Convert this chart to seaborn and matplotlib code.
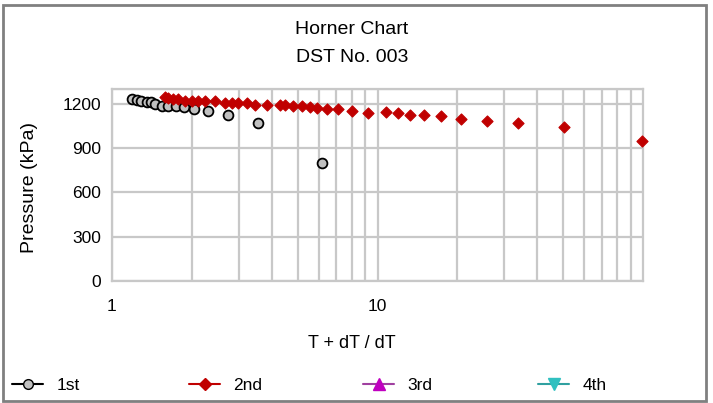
import numpy as np
import pandas as pd
import seaborn as sns
import matplotlib.pyplot as plt
from matplotlib.lines import Line2D
from matplotlib.patches import Rectangle
from matplotlib.ticker import FixedLocator, NullFormatter

# Horner plot data: (T + dT) / dT vs pressure, per flow period
first_x = [1.19, 1.24, 1.29, 1.35, 1.40, 1.45, 1.54, 1.63, 1.74, 1.87, 2.04, 2.29, 2.73, 3.56, 6.17]
first_p = [1234, 1227, 1220, 1214, 1209, 1200, 1186, 1182, 1182, 1175, 1164, 1153, 1127, 1073, 802]

second_x = [1.58, 1.63, 1.70, 1.78, 1.88, 2.00, 2.11, 2.24, 2.44, 2.67, 2.82, 2.99, 3.22, 3.46,
            3.83, 4.30, 4.48, 4.82, 5.18, 5.57, 5.90, 6.44, 7.12, 8.04, 9.23, 10.8, 11.9, 13.3,
            15.0, 17.3, 20.6, 25.8, 33.9, 50.6, 99.4]
second_p = [1245, 1239, 1234, 1232, 1222, 1220, 1220, 1220, 1218, 1205, 1205, 1205, 1205, 1193,
            1193, 1193, 1193, 1182, 1182, 1178, 1171, 1164, 1163, 1153, 1139, 1141, 1140, 1126,
            1125, 1114, 1096, 1085, 1069, 1042, 949]

series_names = ["1st", "2nd", "3rd", "4th"]
y_ticks = [0, 300, 600, 900, 1200]

sns.set_style("white")
plt.rcParams["font.family"] = ["Liberation Sans", "DejaVu Sans"]
plt.rcParams["text.color"] = "black"
plt.rcParams["xtick.color"] = "black"
plt.rcParams["ytick.color"] = "black"

W, H = 713, 403
fig = plt.figure(figsize=(W / 100, H / 100), dpi=100)
ax = fig.add_axes([112 / W, 1 - 281 / H, (643 - 112) / W, (281 - 89) / H])

grid_c = "#c8c8c8"
sns.scatterplot(x=first_x, y=first_p, ax=ax, marker="o", s=50, color="#c0c0c0",
                edgecolor="black", linewidth=1.3, zorder=3, clip_on=False)
sns.scatterplot(x=second_x, y=second_p, ax=ax, marker="D", s=32, color="#c00000",
                edgecolor="#c00000", linewidth=0.8, zorder=4, clip_on=False)

ax.set_xscale("log")
ax.set_xlim(1, 100)
ax.set_ylim(0, 1300)
ax.set_xticks([1, 10])
ax.set_xticklabels(["1", "10"])
ax.xaxis.set_minor_locator(FixedLocator([2, 3, 4, 5, 6, 7, 8, 9, 20, 30, 40, 50, 60, 70, 80, 90]))
ax.xaxis.set_minor_formatter(NullFormatter())
ax.set_yticks(y_ticks + [1300])
ax.set_yticklabels([str(v) for v in y_ticks] + [""])
ax.grid(True, which="both", color=grid_c, linewidth=1.6)
ax.set_axisbelow(True)
for sp in ax.spines.values():
    sp.set_color(grid_c)
    sp.set_linewidth(1.6)
ax.tick_params(axis="both", which="both", length=0, labelsize=12.5, labelcolor="black")
ax.tick_params(axis="x", pad=13)
ax.tick_params(axis="y", pad=8)
ax.set_xlabel("")
ax.set_ylabel("")

fig.text(352 / W, 1 - 30 / H, "Horner Chart", ha="center", va="center", fontsize=14)
fig.text(352 / W, 1 - 57 / H, "DST No. 003", ha="center", va="center", fontsize=14)
fig.text(29 / W, 1 - 187 / H, "Pressure (kPa)", rotation=90, ha="center", va="center", fontsize=14)
fig.text(352 / W, 1 - 343 / H, "T + dT / dT", ha="center", va="center", fontsize=13)

handles = [
    Line2D([], [], color="black", marker="o", markerfacecolor="#c0c0c0", markeredgecolor="black", markersize=7),
    Line2D([], [], color="#c00000", marker="D", markerfacecolor="#c00000", markeredgecolor="#c00000", markersize=6),
    Line2D([], [], color="#a040a0", marker="^", markerfacecolor="#c000c0", markeredgecolor="#c000c0", markersize=8),
    Line2D([], [], color="#30a0a0", marker="v", markerfacecolor="#30c0c0", markeredgecolor="#30c0c0", markersize=8),
]
legend_x = [12, 189, 363, 538]
for h, name, lx in zip(handles, series_names, legend_x):
    fig.legend([h], [name], loc="center left", bbox_to_anchor=(lx / W, 1 - 385 / H),
               frameon=False, fontsize=12.5, handlelength=1.8, handletextpad=0.75,
               borderpad=0, borderaxespad=0)

fig.patches.append(Rectangle((3 / W, 2 / H), 703 / W, 396 / H, transform=fig.transFigure,
                             fill=False, edgecolor="#808080", linewidth=2))

fig.savefig("out.png", dpi=100)
